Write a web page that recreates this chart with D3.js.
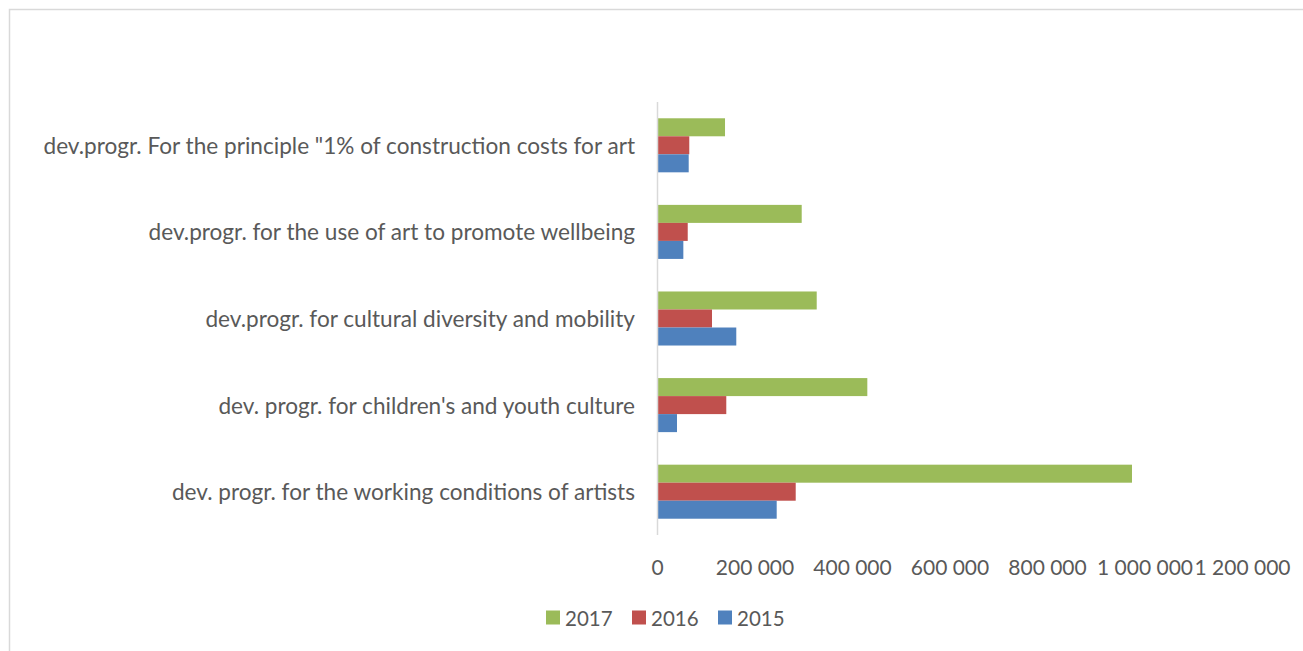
<!DOCTYPE html>
<html>
<head>
<meta charset="utf-8">
<script src="https://cdn.jsdelivr.net/npm/d3@7"></script>
<style>
  body { margin: 0; background: #fff; }
  text { font-family: Lato, "Open Sans", sans-serif; fill: #595959; }
</style>
</head>
<body>
<div id="chart"></div>
<script>
// categories, top to bottom as drawn
const categories = [
  'dev.progr. For the principle "1% of construction costs for art',
  "dev.progr. for the use of art to promote wellbeing",
  "dev.progr. for cultural diversity and mobility",
  "dev. progr. for children's and youth culture",
  "dev. progr. for the working conditions of artists",
];
const years = ["2017", "2016", "2015"];
const values2017 = [138500, 295800, 326600, 430400, 973300];
const values2016 = [65200, 62000, 111800, 141100, 283500];
const values2015 = [64000, 53000, 161600, 40000, 244500];
const xTicks = [0, 200000, 400000, 600000, 800000, 1000000, 1200000];

const colors = { "2017": "#9BBB59", "2016": "#C0504D", "2015": "#4F81BD" };
const seriesValues = { "2017": values2017, "2016": values2016, "2015": values2015 };

const width = 1303, height = 651;
const plot = { left: 657.5, right: 1242.5, top: 102, bottom: 535 };

const svg = d3.select("#chart").append("svg")
  .attr("width", width)
  .attr("height", height);

//outer frame
svg.append("rect")
  .attr("x", 9.5).attr("y", 9.5)
  .attr("width", width).attr("height", height)
  .attr("fill", "none")
  .attr("stroke", "#d9d9d9")
  .attr("stroke-width", 1.5);

//scales
const x = d3.scaleLinear().domain([0, 1200000]).range([plot.left, plot.right]);
const y = d3.scaleBand().domain(categories).range([plot.top, plot.bottom]).paddingInner(0.376).paddingOuter(0.188);
const yInner = d3.scaleBand().domain(years).range([0, y.bandwidth()]);

const fmt = (v) => d3.format(",")(v).replace(/,/g, " ");

//bars
const groups = svg.append("g").selectAll("g")
  .data(categories)
  .join("g")
  .attr("transform", (d) => `translate(0,${y(d)})`);

groups.selectAll("rect")
  .data((d, i) => years.map((yr) => ({ yr, v: seriesValues[yr][i] })))
  .join("rect")
  .attr("x", x(0))
  .attr("y", (d) => yInner(d.yr))
  .attr("width", (d) => x(d.v) - x(0))
  .attr("height", yInner.bandwidth())
  .attr("fill", (d) => colors[d.yr]);

//axis line
svg.append("line")
  .attr("x1", x(0)).attr("x2", x(0))
  .attr("y1", plot.top).attr("y2", plot.bottom)
  .attr("stroke", "#d9d9d9")
  .attr("stroke-width", 1.5);

//category labels
svg.append("g").selectAll("text")
  .data(categories)
  .join("text")
  .attr("x", 635)
  .attr("y", (d) => y(d) + y.bandwidth() / 2)
  .attr("text-anchor", "end")
  .attr("dominant-baseline", "central")
  .attr("font-size", 22.6)
  .text((d) => d);

//x tick labels
svg.append("g").selectAll("text")
  .data(xTicks)
  .join("text")
  .attr("x", (d) => x(d))
  .attr("y", 566)
  .attr("text-anchor", "middle")
  .attr("dominant-baseline", "central")
  .attr("font-size", 21)
  .text(fmt);

//legend
const legendX = [546, 632, 718];
const legend = svg.append("g").selectAll("g")
  .data(years)
  .join("g")
  .attr("transform", (d, i) => `translate(${legendX[i]},610.5)`);
legend.append("rect")
  .attr("width", 14).attr("height", 14)
  .attr("fill", (d) => colors[d]);
legend.append("text")
  .attr("x", 19).attr("y", 7.5)
  .attr("dominant-baseline", "central")
  .attr("font-size", 20.5)
  .text((d) => d);
</script>
</body>
</html>
